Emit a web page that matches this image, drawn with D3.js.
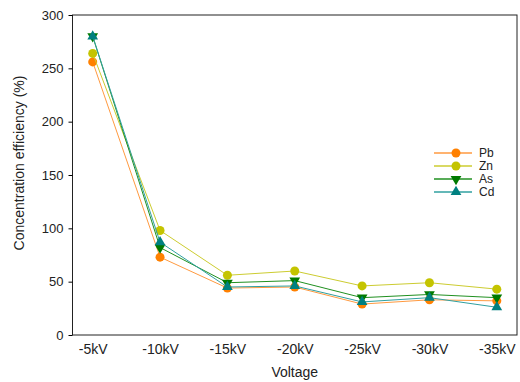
<!DOCTYPE html>
<html>
<head>
<meta charset="utf-8">
<script src="https://cdn.jsdelivr.net/npm/d3@7"></script>
<style>
  body { margin: 0; background: #fff; }
  svg text { font-family: "Liberation Sans", Arial, sans-serif; fill: #222; }
</style>
</head>
<body>
<svg id="chart" width="520" height="382"></svg>
<script>
// data
const voltages = ['-5kV', '-10kV', '-15kV', '-20kV', '-25kV', '-30kV', '-35kV'];
const pb = [256, 73, 44, 45, 29, 33, 32];
const zn = [264, 98, 56, 60, 46, 49, 43];
const as = [280, 82, 49, 51, 35, 38, 35];
const cd = [280, 87, 45, 46, 31, 35, 26];
const yTicks = [0, 50, 100, 150, 200, 250, 300];

const series = [
  { name: 'Pb', values: pb, color: '#ff8000', line: '#ff9a40', shape: 'circle' },
  { name: 'Zn', values: zn, color: '#c4c400', line: '#cccc30', shape: 'circle' },
  { name: 'As', values: as, color: '#007a00', line: '#209020', shape: 'down' },
  { name: 'Cd', values: cd, color: '#008080', line: '#30a0a0', shape: 'up' }
];

const svg = d3.select('#chart');
const margin = { top: 15, right: 3, bottom: 47, left: 72.5 };
const w = 520 - margin.left - margin.right;
const h = 382 - margin.top - margin.bottom;
const g = svg.append('g').attr('transform', `translate(${margin.left},${margin.top})`);

const x = d3.scalePoint().domain(voltages).range([0, w]).padding(0.3);
const y = d3.scaleLinear().domain([0, 300]).range([h, 0]);

// frame
g.append('rect')
  .attr('width', w).attr('height', h)
  .attr('fill', 'none').attr('stroke', '#222').attr('stroke-width', 1);

// y axis
const yAxis = g.append('g')
  .call(d3.axisLeft(y).tickValues(yTicks).tickSize(4).tickPadding(5));
yAxis.select('.domain').remove();
yAxis.selectAll('text').style('font-size', '13px');

// x axis (labels only)
const xAxis = g.append('g')
  .attr('transform', `translate(0,${h})`)
  .call(d3.axisBottom(x).tickSize(0).tickPadding(9));
xAxis.select('.domain').remove();
xAxis.selectAll('text').style('font-size', '14px');

// axis titles
svg.append('text')
  .attr('x', margin.left + w / 2).attr('y', 377)
  .attr('text-anchor', 'middle').style('font-size', '14px')
  .text('Voltage');
svg.append('text')
  .attr('transform', 'translate(24,163) rotate(-90)')
  .attr('text-anchor', 'middle').style('font-size', '14px')
  .text('Concentration efficiency (%)');

function marker(sel, shape, color) {
  if (shape === 'circle') {
    sel.append('circle').attr('r', 4.5).attr('fill', color);
  } else {
    const sym = d3.symbol().type(d3.symbolTriangle).size(50);
    sel.append('path').attr('d', sym())
      .attr('transform', shape === 'down' ? 'rotate(180)' : null)
      .attr('fill', color);
  }
}

const line = d3.line().x((d, i) => x(voltages[i])).y(d => y(d));

series.forEach(s => {
  g.append('path')
    .datum(s.values)
    .attr('d', line)
    .attr('fill', 'none')
    .attr('stroke', s.line)
    .attr('stroke-width', 1);

  g.selectAll(null)
    .data(s.values)
    .join('g')
      .attr('transform', (d, i) => `translate(${x(voltages[i])},${y(d)})`)
      .each(function() { marker(d3.select(this), s.shape, s.color); });
});

// legend
const legend = svg.append('g').attr('transform', 'translate(434,153)');
series.forEach((s, i) => {
  const row = legend.append('g').attr('transform', `translate(0,${i * 13})`);
  row.append('line')
    .attr('x1', 0).attr('x2', 38)
    .attr('stroke', s.line).attr('stroke-width', 1.5);
  const m = row.append('g').attr('transform', 'translate(22,0)');
  marker(m, s.shape, s.color);
  row.append('text')
    .attr('x', 45).attr('y', 4)
    .style('font-size', '12px')
    .text(s.name);
});
</script>
</body>
</html>
